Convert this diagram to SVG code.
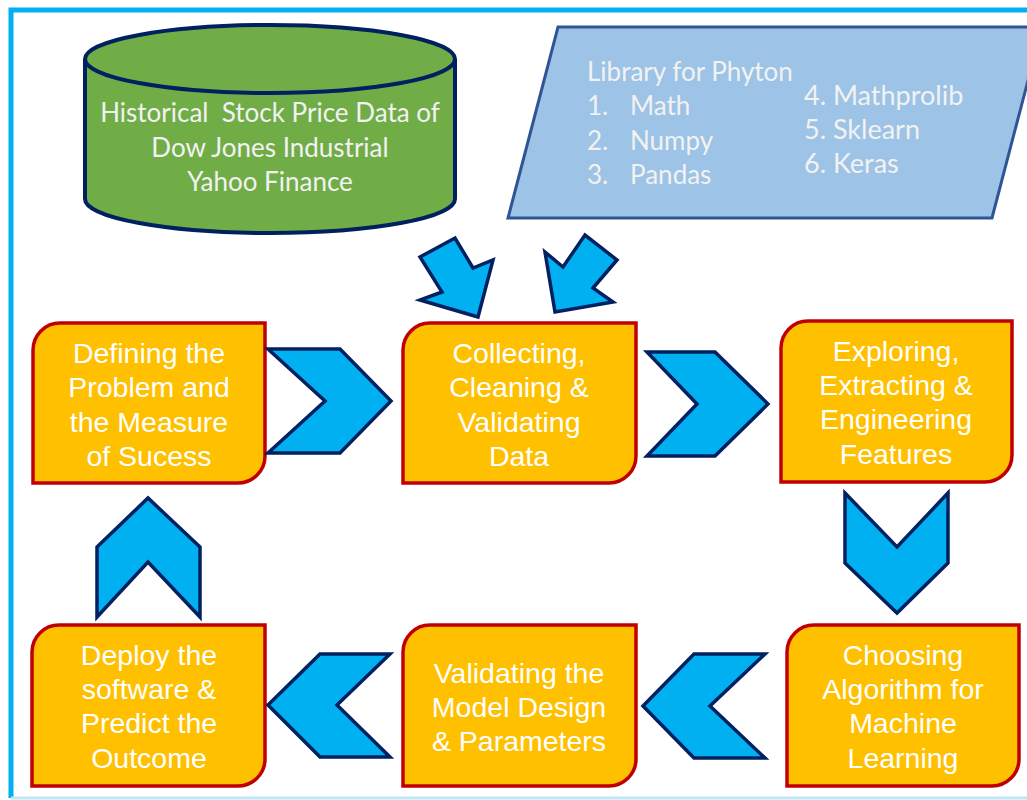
<svg xmlns="http://www.w3.org/2000/svg" width="1027" height="800" viewBox="0 0 1027 800">
<style>
.box{fill:#FFC000;stroke:#C00000;stroke-width:3.5}
.chev{fill:#00B0F0;stroke:#002060;stroke-width:3.5;stroke-linejoin:miter}
.bt{font-family:"Liberation Sans",Arial,sans-serif;font-size:28.5px;fill:#FFFFFF;text-anchor:middle}
.ct{font-family:Lato,"Open Sans",sans-serif;font-size:26px;fill:#F2F2F2}
</style>
<rect x="0" y="0" width="1027" height="800" fill="#FFFFFF"/>
<path d="M11,798 V10 H1027" fill="none" stroke="#00B0F0" stroke-width="5"/>
<line x1="11" y1="798" x2="1027" y2="798" stroke="#BFE6F5" stroke-width="3"/>

<g id="data-source">
<path d="M85,59 V199 A185,34 0 0 0 455,199 V59" fill="#70AD47" stroke="#002060" stroke-width="4"/>
<ellipse cx="270" cy="59" rx="185" ry="34" fill="#70AD47" stroke="#002060" stroke-width="4"/>
<text class="ct" x="270" y="122" text-anchor="middle" xml:space="preserve">Historical  Stock Price Data of</text>
<text class="ct" x="270" y="157" text-anchor="middle">Dow Jones Industrial</text>
<text class="ct" x="270" y="191" text-anchor="middle">Yahoo Finance</text>
</g>

<g id="libraries">
<polygon points="558,27 1042,27 992,218 508,218" fill="#9DC3E6" stroke="#2F5597" stroke-width="3"/>
<text class="ct" x="587" y="81">Library for Phyton</text>
<text class="ct" x="587" y="115">1.</text><text class="ct" x="630" y="115">Math</text>
<text class="ct" x="587" y="150">2.</text><text class="ct" x="630" y="150">Numpy</text>
<text class="ct" x="587" y="184">3.</text><text class="ct" x="630" y="184">Pandas</text>
<text class="ct" x="804" y="105" style="font-size:27px">4. Mathprolib</text>
<text class="ct" x="804" y="139" style="font-size:27px">5. Sklearn</text>
<text class="ct" x="804" y="173" style="font-size:27px">6. Keras</text>
</g>

<g id="step1-define">
<path class="box" d="M60,323 H265 V456 A27,27 0 0 1 238,483 H33 V350 A27,27 0 0 1 60,323 Z"/>
<text class="bt" x="149" y="363">Defining the</text>
<text class="bt" x="149" y="397">Problem and</text>
<text class="bt" x="149" y="432">the Measure</text>
<text class="bt" x="149" y="466">of Sucess</text>
</g>

<g id="step2-collect">
<path class="box" d="M430,323 H636 V456 A27,27 0 0 1 609,483 H403 V350 A27,27 0 0 1 430,323 Z"/>
<text class="bt" x="519" y="363">Collecting,</text>
<text class="bt" x="519" y="397">Cleaning &amp;</text>
<text class="bt" x="519" y="432">Validating</text>
<text class="bt" x="519" y="466">Data</text>
</g>

<g id="step3-explore">
<path class="box" d="M808,321 H1012 V455 A27,27 0 0 1 985,482 H781 V348 A27,27 0 0 1 808,321 Z"/>
<text class="bt" x="896" y="361">Exploring,</text>
<text class="bt" x="896" y="395">Extracting &amp;</text>
<text class="bt" x="896" y="429">Engineering</text>
<text class="bt" x="896" y="464">Features</text>
</g>

<g id="step4-choose">
<path class="box" d="M814,625 H1019 V759 A27,27 0 0 1 992,786 H787 V652 A27,27 0 0 1 814,625 Z"/>
<text class="bt" x="903" y="665">Choosing</text>
<text class="bt" x="903" y="699">Algorithm for</text>
<text class="bt" x="903" y="733">Machine</text>
<text class="bt" x="903" y="768">Learning</text>
</g>

<g id="step5-validate">
<path class="box" d="M430,625 H636 V759 A27,27 0 0 1 609,786 H403 V652 A27,27 0 0 1 430,625 Z"/>
<text class="bt" x="519" y="683">Validating the</text>
<text class="bt" x="519" y="717">Model Design</text>
<text class="bt" x="519" y="751">&amp; Parameters</text>
</g>

<g id="step6-deploy">
<path class="box" d="M59,625 H265 V759 A27,27 0 0 1 238,786 H32 V652 A27,27 0 0 1 59,625 Z"/>
<text class="bt" x="149" y="665">Deploy the</text>
<text class="bt" x="149" y="699">software &amp;</text>
<text class="bt" x="149" y="733">Predict the</text>
<text class="bt" x="149" y="768">Outcome</text>
</g>

<g id="connectors">
<polygon class="chev" points="420,257 455,238 473,268 493,260 478,317 420,300 442,292"/>
<polygon class="chev" points="545,252 563,267 585,235 617,260 593,288 613,302 555,312"/>
<polygon class="chev" points="268,349 340,349 391,401 340,453 268,453 325,401"/>
<polygon class="chev" points="647,352 715,352 768,404 715,456 647,456 697,404"/>
<polygon class="chev" points="845,493 897,547 948,493 948,563 897,613 845,563"/>
<polygon class="chev" points="765,654 694,654 643,706 694,758 765,758 710,706"/>
<polygon class="chev" points="390,654 320,654 268,705 320,757 390,757 337,705"/>
<polygon class="chev" points="97,617 97,547 148,498 200,547 200,617 148,562"/>
</g>
</svg>
